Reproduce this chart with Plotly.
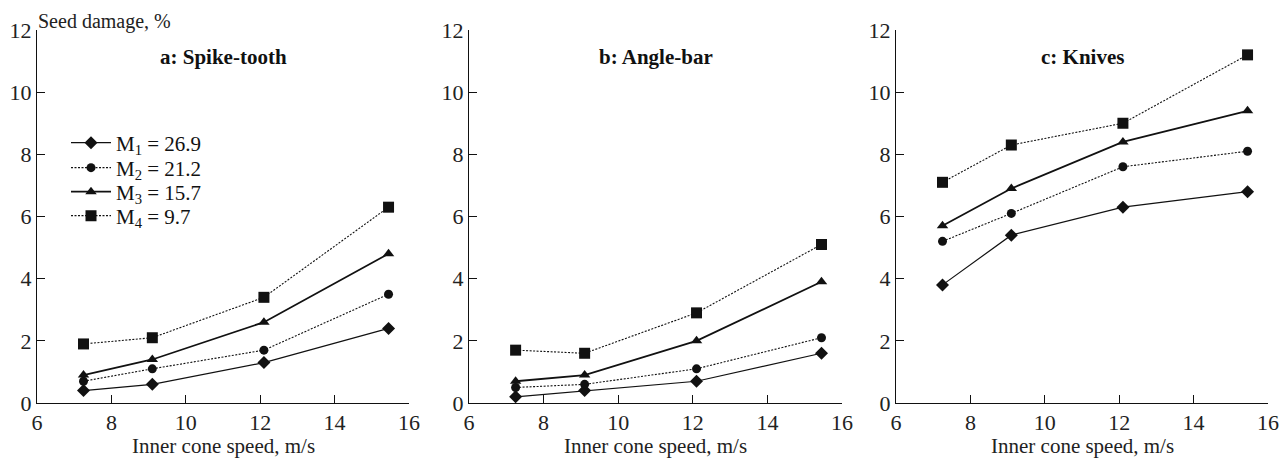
import plotly.graph_objects as go

speed = [7.25, 9.1, 12.1, 15.45]

panels = ["a: Spike-tooth", "b: Angle-bar", "c: Knives"]
series_names = ["M<sub>1</sub> = 26.9", "M<sub>2</sub> = 21.2", "M<sub>3</sub> = 15.7", "M<sub>4</sub> = 9.7"]
x_title = "Inner cone speed, m/s"
y_title = "Seed damage, %"

a_M1 = [0.4, 0.6, 1.3, 2.4]
a_M2 = [0.7, 1.1, 1.7, 3.5]
a_M3 = [0.9, 1.4, 2.6, 4.8]
a_M4 = [1.9, 2.1, 3.4, 6.3]

b_M1 = [0.2, 0.4, 0.7, 1.6]
b_M2 = [0.5, 0.6, 1.1, 2.1]
b_M3 = [0.7, 0.9, 2.0, 3.9]
b_M4 = [1.7, 1.6, 2.9, 5.1]

c_M1 = [3.8, 5.4, 6.3, 6.8]
c_M2 = [5.2, 6.1, 7.6, 8.1]
c_M3 = [5.7, 6.9, 8.4, 9.4]
c_M4 = [7.1, 8.3, 9.0, 11.2]

data = [
    [a_M1, a_M2, a_M3, a_M4],
    [b_M1, b_M2, b_M3, b_M4],
    [c_M1, c_M2, c_M3, c_M4],
]

FONT = "Liberation Serif"
INK = "#111111"
W, H = 1279, 458
TOP, BOT = 30, 403  # plot area pixel rows


def py(pix):
    return (BOT - pix) / (BOT - TOP)


styles = [
    dict(symbol="diamond", size=10, dash="solid", width=1.2),
    dict(symbol="circle", size=9, dash="2px,1.5px", width=1.1),
    dict(symbol="triangle-up", size=10, dash="solid", width=1.8),
    dict(symbol="square", size=11, dash="2px,1.5px", width=1.1),
]

px_domains = [(37, 409), (469, 842), (896, 1268)]
domains = [[a / W, b / W] for a, b in px_domains]

legend_rows = [143, 168, 192, 216]

fig = go.Figure()
for p, series in enumerate(data):
    xa = "x" if p == 0 else f"x{p+1}"
    ya = "y" if p == 0 else f"y{p+1}"
    for s, vals in enumerate(series):
        st = styles[s]
        fig.add_trace(go.Scatter(
            x=speed, y=vals, mode="lines+markers",
            name=series_names[s], showlegend=(p == 0),
            legend="legend" if s == 0 else f"legend{s+1}",
            xaxis=xa, yaxis=ya,
            line=dict(color=INK, width=st["width"], dash=st["dash"]),
            marker=dict(symbol=st["symbol"], size=st["size"], color=INK),
        ))

layout = dict(
    width=W, height=H,
    margin=dict(l=0, r=0, t=TOP, b=H - BOT, autoexpand=False),
    paper_bgcolor="white", plot_bgcolor="white",
    font=dict(family=FONT, size=20, color=INK),
    showlegend=True,
)

for s in range(4):
    key = "legend" if s == 0 else f"legend{s+1}"
    layout[key] = dict(
        x=66 / W, y=py(legend_rows[s]), xanchor="left", yanchor="middle",
        bgcolor="rgba(0,0,0,0)", font=dict(size=21, family=FONT, color=INK),
        itemwidth=40, borderwidth=0,
    )

for p in range(3):
    xk = "xaxis" if p == 0 else f"xaxis{p+1}"
    yk = "yaxis" if p == 0 else f"yaxis{p+1}"
    ya = "y" if p == 0 else f"y{p+1}"
    xa = "x" if p == 0 else f"x{p+1}"
    layout[xk] = dict(
        domain=domains[p], range=[6, 16], anchor=ya, automargin=False,
        tickvals=[6, 8, 10, 12, 14, 16], ticks="inside", ticklen=8,
        tickcolor=INK, showline=True, linecolor=INK, linewidth=1,
        showgrid=False, zeroline=False,
        tickfont=dict(size=22, family=FONT, color="#222222"),
    )
    layout[yk] = dict(
        domain=[0, 1], range=[0, 12], anchor=xa, automargin=False,
        tickvals=[0, 2, 4, 6, 8, 10, 12], ticks="inside", ticklen=8,
        tickcolor=INK, showline=True, linecolor=INK, linewidth=1,
        showgrid=False, zeroline=False, ticklabelstandoff=0,
        tickfont=dict(size=22, family=FONT, color="#222222"),
    )

fig.update_layout(**layout)

annotations = []
for p in range(3):
    cx = (px_domains[p][0] + px_domains[p][1]) / 2 / W
    annotations.append(dict(
        text=f"<b>{panels[p]}</b>", x=cx, y=py(57), xref="paper", yref="paper",
        showarrow=False, font=dict(size=21, family=FONT, color=INK),
        xanchor="center", yanchor="middle",
    ))
    annotations.append(dict(
        text=x_title, x=cx, y=py(446), xref="paper", yref="paper",
        showarrow=False, font=dict(size=21, family=FONT, color="#222222"),
        xanchor="center", yanchor="middle",
    ))
annotations.append(dict(
    text=y_title, x=36 / W, y=py(22), xref="paper", yref="paper",
    showarrow=False, font=dict(size=20, family=FONT, color="#222222"),
    xanchor="left", yanchor="middle",
))
fig.update_layout(annotations=annotations)

fig.write_html(
    "out.html",
    config={"displayModeBar": False},
    post_script="document.body.style.margin='0';document.body.style.overflow='hidden';",
)
